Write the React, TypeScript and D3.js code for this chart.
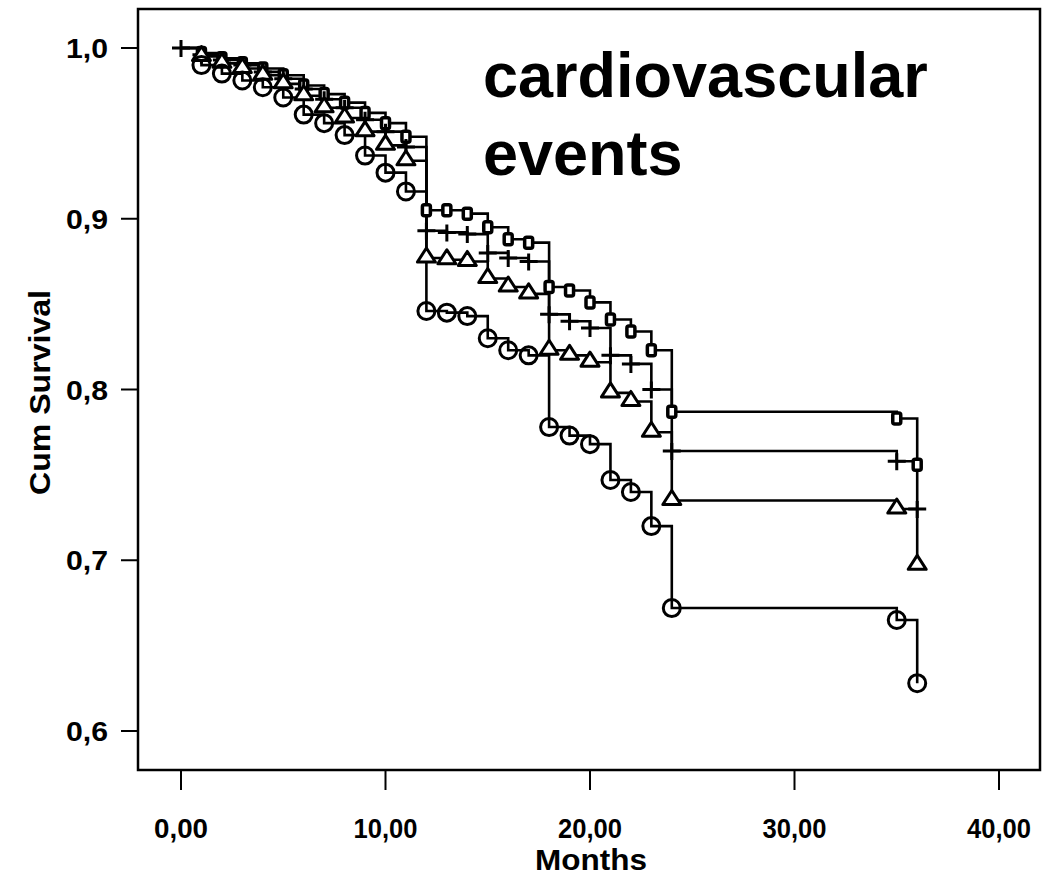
import React from "react";
import * as d3 from "d3";

// ---- data ----
const months = [0, 1, 2, 3, 4, 5, 6, 7, 8, 9, 10, 11, 12, 13, 14, 15, 16, 17, 18, 19, 20, 21, 22, 23, 24, 35, 36];

const squareSurv = [1, 0.997, 0.994, 0.991, 0.988, 0.984, 0.978, 0.973, 0.968, 0.962, 0.956, 0.948,
  0.905, 0.905, 0.903, 0.895, 0.888, 0.886, 0.86, 0.858, 0.851, 0.841, 0.834, 0.823, 0.787, 0.783, 0.756];
const plusSurv = [1, 0.996, 0.993, 0.99, 0.986, 0.982, 0.976, 0.97, 0.965, 0.958, 0.951, 0.942,
  0.893, 0.892, 0.891, 0.88, 0.877, 0.875, 0.844, 0.84, 0.836, 0.82, 0.815, 0.8, 0.764, 0.758, 0.73];
const triangleSurv = [1, 0.995, 0.991, 0.988, 0.984, 0.979, 0.972, 0.965, 0.959, 0.951, 0.943, 0.934,
  0.877, 0.876, 0.875, 0.865, 0.86, 0.856, 0.823, 0.82, 0.816, 0.798, 0.793, 0.775, 0.735, 0.73, 0.697];
const circleSurv = [1, 0.99, 0.985, 0.981, 0.977, 0.971, 0.961, 0.956, 0.949, 0.937, 0.927, 0.916,
  0.846, 0.845, 0.843, 0.83, 0.823, 0.82, 0.778, 0.773, 0.768, 0.747, 0.74, 0.72, 0.672, 0.665, 0.628];

const xTicks = [0, 10, 20, 30, 40];
const xTickLabels = ["0,00", "10,00", "20,00", "30,00", "40,00"];
const yTicks = [0.6, 0.7, 0.8, 0.9, 1.0];
const yTickLabels = ["0,6", "0,7", "0,8", "0,9", "1,0"];

const series = [
  { name: "square", values: squareSurv, startMarker: false },
  { name: "plus", values: plusSurv, startMarker: true },
  { name: "triangle", values: triangleSurv, startMarker: false },
  { name: "circle", values: circleSurv, startMarker: false },
];

// ---- layout ----
const W = 1043;
const H = 878;
const frame = { left: 138, right: 1040, top: 9, bottom: 770 };
const x = d3.scaleLinear().domain([0, 40]).range([181, 999]);
const y = d3.scaleLinear().domain([0.6, 1.0]).range([731, 48]);

const axisFont = "'Liberation Sans', Arial, sans-serif";

function Marker({ kind, cx, cy }: { kind: string; cx: number; cy: number }) {
  const sw = 3;
  if (kind === "circle") {
    return <circle cx={cx} cy={cy} r={8.5} fill="none" stroke="#000" strokeWidth={sw} />;
  }
  if (kind === "triangle") {
    const p = `M${cx},${cy - 10} L${cx + 9},${cy + 4} L${cx - 9},${cy + 4} Z`;
    return <path d={p} fill="#fff" stroke="#000" strokeWidth={sw} strokeLinejoin="round" />;
  }
  if (kind === "plus") {
    return (
      <path d={`M${cx - 9},${cy} H${cx + 9} M${cx},${cy - 8} V${cy + 9}`} stroke="#000" strokeWidth={sw} fill="none" />
    );
  }
  return <rect x={cx - 4} y={cy - 5.5} width={8} height={11} rx={2} fill="#fff" stroke="#000" strokeWidth={3.5} />;
}

export default function App() {
  const line = d3
    .line<number>()
    .x((_, i) => x(months[i]))
    .y((d) => y(d))
    .curve(d3.curveStepAfter);

  return (
    <svg width={W} height={H} style={{ position: "absolute", left: 0, top: 0, background: "#fff" }}>
      <rect x={0} y={0} width={W} height={H} fill="#fff" />
      {/* frame */}
      <rect
        x={frame.left}
        y={frame.top}
        width={frame.right - frame.left}
        height={frame.bottom - frame.top}
        fill="none"
        stroke="#000"
        strokeWidth={2.5}
      />
      {/* y axis ticks */}
      {yTicks.map((t, i) => (
        <g key={"y" + t}>
          <line x1={121} x2={frame.left} y1={y(t)} y2={y(t)} stroke="#000" strokeWidth={2} />
          <text
            x={66}
            y={y(t) + 10}
            textLength={42}
            lengthAdjust="spacingAndGlyphs"
            fontFamily={axisFont}
            fontWeight="bold"
            fontSize={28}
            fill="#000"
          >
            {yTickLabels[i]}
          </text>
        </g>
      ))}
      {/* x axis ticks */}
      {xTicks.map((t, i) => (
        <g key={"x" + t}>
          <line x1={x(t)} x2={x(t)} y1={frame.bottom} y2={790} stroke="#000" strokeWidth={2} />
          <text
            x={x(t) - (i === 0 ? 27 : 32)}
            y={838}
            textLength={i === 0 ? 54 : 64}
            lengthAdjust="spacingAndGlyphs"
            fontFamily={axisFont}
            fontWeight="bold"
            fontSize={28}
            fill="#000"
          >
            {xTickLabels[i]}
          </text>
        </g>
      ))}
      {/* axis titles */}
      <text
        x={535}
        y={870}
        textLength={112}
        lengthAdjust="spacingAndGlyphs"
        fontFamily={axisFont}
        fontWeight="bold"
        fontSize={29}
        fill="#000"
      >
        Months
      </text>
      <text
        transform={`translate(50,495) rotate(-90)`}
        textLength={205}
        lengthAdjust="spacingAndGlyphs"
        fontFamily={axisFont}
        fontWeight="bold"
        fontSize={29}
        fill="#000"
      >
        Cum Survival
      </text>
      {/* curves */}
      {series.map((s) => (
        <path key={s.name} d={line(s.values) || ""} fill="none" stroke="#000" strokeWidth={2.6} />
      ))}
      {/* censor markers */}
      {series.map((s) =>
        s.values.map((v, i) =>
          i === 0 && !s.startMarker ? null : (
            <Marker key={s.name + i} kind={s.name} cx={x(months[i])} cy={y(v)} />
          )
        )
      )}
      {/* title */}
      <text x={483} y={97} fontFamily={axisFont} fontWeight="bold" fontSize={63} fill="#000">
        cardiovascular
      </text>
      <text x={483} y={175} fontFamily={axisFont} fontWeight="bold" fontSize={63} fill="#000">
        events
      </text>
    </svg>
  );
}
